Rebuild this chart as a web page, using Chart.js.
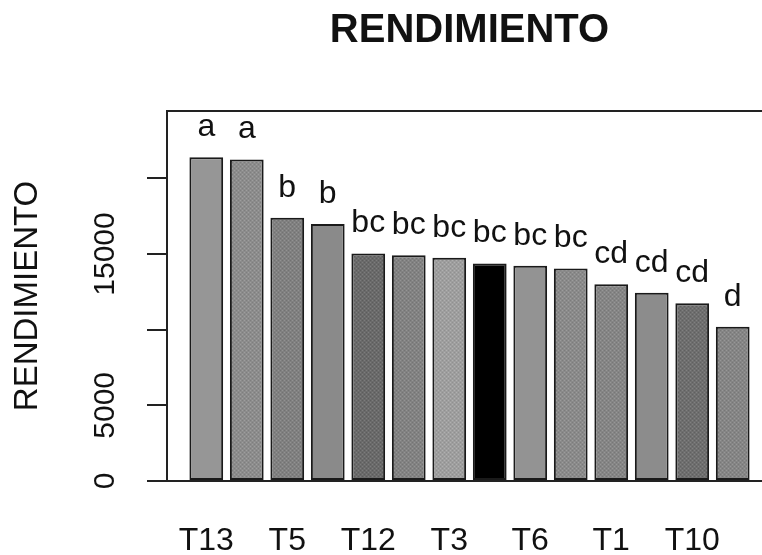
<!DOCTYPE html>
<html>
<head>
<meta charset="utf-8">
<script src="https://cdn.jsdelivr.net/npm/chart.js@4/dist/chart.umd.min.js"></script>
<style>
  html, body { margin: 0; padding: 0; background: #fff; overflow: hidden; }
  #wrap { width: 762px; height: 555px; overflow: hidden; position: relative; }
  canvas { display: block; }
</style>
</head>
<body>
<div id="wrap"><canvas id="c" width="939" height="555" style="width:939px;height:555px"></canvas></div>
<script>
// Treatments in descending order of yield (only every other name fits under the axis)
const categories = ['T13', '', 'T5', '', 'T12', '', 'T3', '', 'T6', '', 'T1', '', 'T10', ''];
const rendimiento = [21390, 21250, 17400, 16980, 15040, 14910, 14750, 14380, 14230, 14050, 13000, 12440, 11740, 10200];
const letters = ['a', 'a', 'b', 'b', 'bc', 'bc', 'bc', 'bc', 'bc', 'bc', 'cd', 'cd', 'cd', 'd'];
const barColors = ['#969696', '#8c8c8c', '#808080', '#8a8a8a', '#6a6a6a', '#828282', '#9e9e9e',
                   '#000000', '#939393', '#8a8a8a', '#858585', '#8c8c8c', '#6e6e6e', '#858585'];
const barTextured = [false, true, true, false, true, true, true, false, false, true, true, false, true, true];
const yTicks = [0, 5000, 10000, 15000, 20000];
const yTickLabels = ['0', '5000', '', '15000', ''];

const FONT = "'Liberation Sans', Arial, sans-serif";
const INK = '#111111';

// Small stippled fill: base grey with a sparse lighter/darker dot grid
function stipple(hex) {
  const c = document.createElement('canvas');
  c.width = 4; c.height = 4;
  const g = c.getContext('2d');
  g.fillStyle = hex;
  g.fillRect(0, 0, 4, 4);
  const base = parseInt(hex.slice(1, 3), 16);
  const lighter = Math.min(255, base + 18);
  const darker = Math.max(0, base - 14);
  g.fillStyle = `rgb(${lighter},${lighter},${lighter})`;
  g.fillRect(0, 0, 1, 1);
  g.fillRect(2, 2, 1, 1);
  g.fillStyle = `rgb(${darker},${darker},${darker})`;
  g.fillRect(2, 0, 1, 1);
  g.fillRect(0, 2, 1, 1);
  return g.createPattern(c, 'repeat');
}
const barFills = barColors.map((col, i) => barTextured[i] ? stipple(col) : col);

// Frame around the plotting region plus the significance letters above the bars
const framePlugin = {
  id: 'frameAndLetters',
  afterDatasetsDraw(chart) {
    const { ctx, chartArea: a } = chart;
    ctx.save();
    ctx.strokeStyle = '#222222';
    ctx.lineWidth = 2;
    ctx.strokeRect(a.left, a.top, a.right - a.left, a.bottom - a.top);

    ctx.fillStyle = INK;
    ctx.font = "32px " + FONT;
    ctx.textAlign = 'center';
    ctx.textBaseline = 'alphabetic';
    chart.getDatasetMeta(0).data.forEach((bar, i) => {
      ctx.fillText(letters[i], bar.x, bar.y - 21);
    });
    ctx.restore();
  }
};

new Chart(document.getElementById('c'), {
  type: 'bar',
  data: {
    datasets: [{
      label: 'RENDIMIENTO',
      data: rendimiento.map((v, i) => ({ x: i, y: v })),
      backgroundColor: barFills,
      borderColor: '#1a1a1a',
      borderWidth: 2,
      borderSkipped: false,
      categoryPercentage: 1,
      barPercentage: 1 / 1.2
    }]
  },
  options: {
    responsive: false,
    animation: false,
    layout: { padding: 0 },
    plugins: {
      legend: { display: false },
      tooltip: { enabled: false },
      title: {
        display: true,
        text: 'RENDIMIENTO',
        color: INK,
        font: { family: FONT, size: 40, weight: 'bold' },
        padding: { top: 7, bottom: 56 }
      }
    },
    scales: {
      x: {
        type: 'linear',
        min: -0.97,
        max: 13.97,
        offset: false,
        grid: { display: false, drawTicks: false, offset: false },
        border: { display: false },
        afterBuildTicks: (s) => { s.ticks = categories.map((_, i) => ({ value: i })); },
        afterFit: (s) => { s.height = 74; },
        ticks: {
          autoSkip: false,
          maxRotation: 0,
          minRotation: 0,
          padding: 41,
          color: INK,
          font: { family: FONT, size: 32 },
          callback: (v) => categories[v] ?? ''
        }
      },
      y: {
        type: 'linear',
        min: 0,
        max: 24450,
        afterBuildTicks: (s) => { s.ticks = yTicks.map(v => ({ value: v })); },
        afterFit: (s) => { s.width = 167; },
        grid: {
          drawOnChartArea: false,
          drawTicks: true,
          tickLength: 20,
          color: '#222222',
          lineWidth: 2
        },
        border: { display: false },
        ticks: {
          minRotation: 90,
          maxRotation: 90,
          crossAlign: 'center',
          padding: 0,
          color: INK,
          font: { family: FONT, size: 30 },
          callback: (v, i) => yTickLabels[i]
        },
        title: {
          display: true,
          text: 'RENDIMIENTO',
          color: INK,
          font: { family: FONT, size: 33 },
          padding: { top: 8, bottom: 0 }
        }
      },
      // empty right-hand margin, mirrors the left axis so the title centres over the plot
      yRight: {
        type: 'linear',
        position: 'right',
        grid: { display: false, drawTicks: false },
        border: { display: false },
        ticks: { display: false },
        afterFit: (s) => { s.width = 167; }
      }
    }
  },
  plugins: [framePlugin]
});
</script>
</body>
</html>
